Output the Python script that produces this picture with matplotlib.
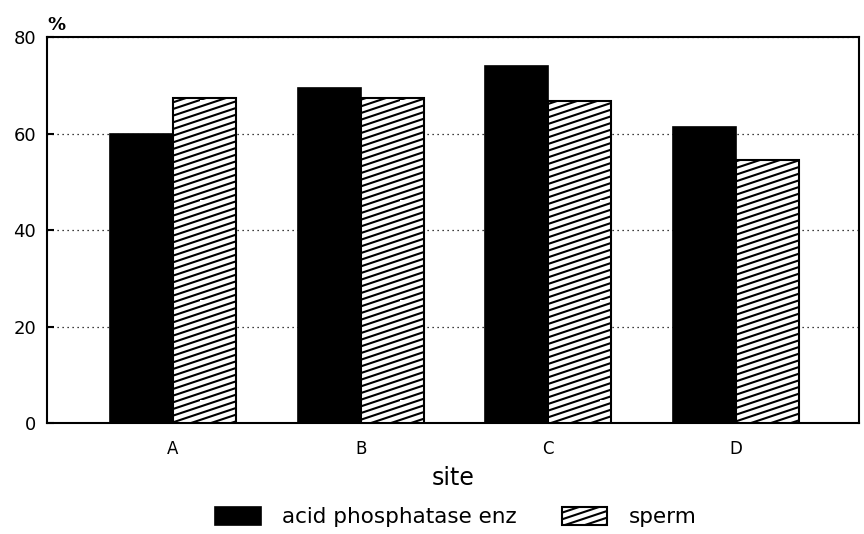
import numpy as np
import matplotlib
matplotlib.use("Agg")
import matplotlib.pyplot as plt
import matplotlib.hatch as mhatch
from matplotlib.path import Path

# ---- data ----
sites = ["A", "B", "C", "D"]
acid_phosphatase = [60.0, 69.5, 74.0, 61.3]
sperm = [67.3, 67.3, 66.8, 54.5]
yticks = [0, 20, 40, 60, 80]
series_labels = ["acid phosphatase enz", "sperm"]

# ---- custom shallow hatch (slope 1/3) for pattern '/' ----
_orig_get_path = mhatch.get_path


def _shallow_get_path(pattern, density=6):
    if pattern != "/":
        return _orig_get_path(pattern, density)
    n = 15
    e = 0.03
    verts, codes = [], []
    for k in range(n):
        c = k / n
        for off in (0.0, -1.0):
            y0 = c + off
            verts += [(-e, y0 - e / 3), (1 + e, y0 + (1 + e) / 3)]
            codes += [Path.MOVETO, Path.LINETO]
    return Path(np.array(verts), np.array(codes, dtype=Path.code_type))


mhatch.get_path = _shallow_get_path
Path.hatch.cache_clear()

plt.rcParams["font.family"] = ["DejaVu Sans"]
plt.rcParams["hatch.linewidth"] = 1.5

fig = plt.figure(figsize=(8.64, 5.34), dpi=100)
ax = fig.add_axes([47 / 864, 111 / 534, 812 / 864, 386 / 534])

x = np.arange(len(sites))
w = 0.336
b1 = ax.bar(x - w / 2, acid_phosphatase, w, color="black", edgecolor="black",
            linewidth=1.2, label=series_labels[0], zorder=3)
b2 = ax.bar(x + w / 2, sperm, w, color="white", edgecolor="black",
            linewidth=1.5, hatch="/", label=series_labels[1], zorder=3)

ax.set_xlim(-0.671, 3.655)
ax.set_ylim(0, 80)
ax.set_yticks(yticks)
ax.set_xticks(x)
ax.set_xticklabels(sites)
ax.yaxis.grid(True, color="black", linestyle=(0, (1, 3)), linewidth=0.9, zorder=0)
ax.set_axisbelow(True)

for s in ax.spines.values():
    s.set_linewidth(1.5)

ax.tick_params(axis="y", direction="in", length=5, width=1.5, labelsize=13, pad=8)
ax.tick_params(axis="x", length=0, labelsize=12, pad=12)
ax.set_xlabel("site", fontsize=17, labelpad=6)

ax.text(0.0, 1.008, "%", transform=ax.transAxes, ha="left", va="bottom",
        fontsize=13, fontweight="bold")

fig.legend(handles=[b1, b2], labels=series_labels, loc="center",
           bbox_to_anchor=(456 / 864, 1 - 517 / 534), ncol=2, frameon=False,
           fontsize=15.5, handlelength=2.1, handleheight=0.95,
           handletextpad=1.0, columnspacing=2.1)

fig.savefig("out.png", dpi=100)
